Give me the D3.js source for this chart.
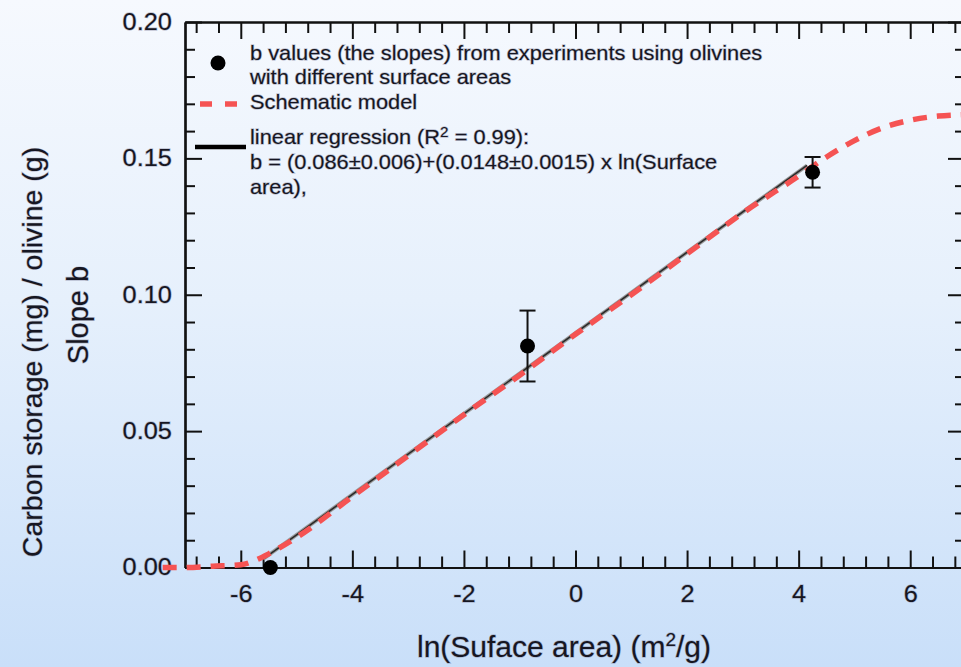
<!DOCTYPE html>
<html>
<head>
<meta charset="utf-8">
<script src="https://cdn.jsdelivr.net/npm/d3@7"></script>
<style>
  html, body { margin: 0; padding: 0; overflow: hidden; }
  svg text { font-family: "Liberation Sans", Arial, sans-serif; fill: #161622; }
  .halo { paint-order: stroke; stroke: rgba(110,110,140,0.4); stroke-width: 1.3px; }
  .axis path, .axis line { stroke: #111; }
</style>
</head>
<body>
<div id="chart"></div>
<script>
// measured b values with error bars
var pointX = [-5.47, -0.86, 4.25];
var pointY = [0.0, 0.0812, 0.1449];
var pointErr = [0.0, 0.013, 0.0056];

// linear regression: drawn between two x ends
var regX = [-5.6, 4.15];
var regY = [0.0031, 0.1474];

// schematic model
var modelX = [-7.4, -7, -6.5, -6, -5.7, -5.5, -5, -4, -3, -2, -1, 0, 1, 2, 3, 4, 4.5, 5, 5.5, 6, 6.5, 7];
var modelY = [0, 0, 0.0005, 0.001, 0.003, 0.005, 0.011, 0.026, 0.041, 0.056, 0.0705, 0.0855, 0.1, 0.115, 0.13, 0.1435, 0.1505, 0.1565, 0.1612, 0.164, 0.1655, 0.166];

var xMajorTicks = [-6, -4, -2, 0, 2, 4, 6];
var yMajorTicks = [0, 0.05, 0.10, 0.15, 0.20];

var legendLabels = [
  ["b values (the slopes) from experiments using olivines", "with different surface areas"],
  ["Schematic model"],
  ["linear regression (R", "b = (0.086\u00b10.006)+(0.0148\u00b10.0015) x ln(Surface", "area),"]
];

var svgWidth = 961;
var svgHeight = 667;

var svg = d3.select("#chart")
  .append("svg")
  .attr("width", svgWidth)
  .attr("height", svgHeight);

var defs = svg.append("defs");
var grad = defs.append("linearGradient")
  .attr("id", "bg")
  .attr("x1", 0).attr("y1", 0).attr("x2", 0).attr("y2", 1);
grad.append("stop").attr("offset", "0%").attr("stop-color", "#f6f9fe");
grad.append("stop").attr("offset", "45%").attr("stop-color", "#e6f0fc");
grad.append("stop").attr("offset", "100%").attr("stop-color", "#c9dff9");

svg.append("rect")
  .attr("width", svgWidth)
  .attr("height", svgHeight)
  .attr("fill", "url(#bg)");

var x = d3.scaleLinear().domain([-7, 7]).range([185, 966]);
var y = d3.scaleLinear().domain([0, 0.2]).range([567.5, 22]);

var xMinor = d3.range(-6.8, 7, 0.4).filter(v => xMajorTicks.every(m => Math.abs(m - v) > 0.01));
var yMinor = d3.range(0.01, 0.2, 0.01).filter(v => yMajorTicks.every(m => Math.abs(m - v) > 0.001));

function styleAxis(g) {
  g.selectAll("path").attr("stroke-width", 2.2);
  g.selectAll("line").attr("stroke-width", 2);
  g.selectAll("text")
    .attr("fill", "#161622")
    .attr("font-size", 23)
    .attr("transform", "scale(1.1,1)")
    .attr("font-family", "Liberation Sans, Arial, sans-serif")
    .classed("halo", true);
}

// bottom axis
var bottomG = svg.append("g").attr("class", "axis").attr("transform", `translate(0, ${y(0)})`);
bottomG.call(d3.axisBottom(x).tickValues(xMinor).tickSize(-11).tickSizeOuter(0).tickFormat(""));
bottomG.append("g").call(d3.axisBottom(x).tickValues(xMajorTicks).tickSize(-17).tickSizeOuter(0)
  .tickPadding(18).tickFormat(d => d < 0 ? "-" + Math.abs(d) : d));
bottomG.call(styleAxis);

// top axis
var topG = svg.append("g").attr("class", "axis").attr("transform", `translate(0, ${y(0.2)})`);
topG.call(d3.axisTop(x).tickValues(xMinor).tickSize(-11).tickSizeOuter(0).tickFormat(""));
topG.append("g").call(d3.axisTop(x).tickValues(xMajorTicks).tickSize(-17).tickSizeOuter(0).tickFormat(""));
topG.call(styleAxis);

// left axis
var leftG = svg.append("g").attr("class", "axis").attr("transform", `translate(${x(-7)}, 0)`);
leftG.call(d3.axisLeft(y).tickValues(yMinor).tickSize(-10).tickSizeOuter(0).tickFormat(""));
leftG.append("g").call(d3.axisLeft(y).tickValues(yMajorTicks).tickSize(-17).tickSizeOuter(0)
  .tickPadding(12).tickFormat(d3.format(".2f")));
leftG.call(styleAxis);

// right axis
var rightG = svg.append("g").attr("class", "axis").attr("transform", `translate(${x(7)}, 0)`);
rightG.call(d3.axisRight(y).tickValues(yMinor).tickSize(-11).tickSizeOuter(0).tickFormat(""));
rightG.append("g").call(d3.axisRight(y).tickValues(yMajorTicks).tickSize(-18).tickSizeOuter(0).tickFormat(""));
rightG.call(styleAxis);

// regression line
var line = d3.line().x(d => x(d[0])).y(d => y(d[1]));
svg.append("path")
  .datum(d3.zip(regX, regY))
  .attr("fill", "none")
  .attr("stroke", "#9a9a9a")
  .attr("stroke-width", 3.8)
  .attr("d", line);
svg.append("path")
  .datum(d3.zip(regX, regY))
  .attr("fill", "none")
  .attr("stroke", "#2a2a2a")
  .attr("stroke-width", 1.6)
  .attr("d", line);

// schematic model
var modelLine = d3.line().x(d => x(d[0])).y(d => y(d[1])).curve(d3.curveMonotoneX);
svg.append("path")
  .datum(d3.zip(modelX, modelY))
  .attr("fill", "none")
  .attr("stroke", "#f55353")
  .attr("stroke-width", 5.5)
  .attr("stroke-dasharray", "14,10")
  .attr("d", modelLine);

// error bars and points
var pts = d3.zip(pointX, pointY, pointErr);
var eb = svg.append("g");
pts.filter(d => d[2] > 0).forEach(function(d) {
  var g = eb.append("g").attr("stroke", "#111").attr("stroke-width", 2);
  g.append("line").attr("x1", x(d[0])).attr("x2", x(d[0])).attr("y1", y(d[1] - d[2])).attr("y2", y(d[1] + d[2]));
  g.append("line").attr("x1", x(d[0]) - 8).attr("x2", x(d[0]) + 8).attr("y1", y(d[1] - d[2])).attr("y2", y(d[1] - d[2]));
  g.append("line").attr("x1", x(d[0]) - 8).attr("x2", x(d[0]) + 8).attr("y1", y(d[1] + d[2])).attr("y2", y(d[1] + d[2]));
});
svg.append("g").selectAll("circle")
  .data(pts)
  .enter()
  .append("circle")
  .attr("cx", d => x(d[0]))
  .attr("cy", d => y(d[1]))
  .attr("r", 7.5)
  .attr("fill", "#000");

// legend
var legend = svg.append("g");
var legendFont = 20;
var legendStretch = "scale(1.09,1)";
legend.append("circle").attr("cx", 218).attr("cy", 63).attr("r", 7.5).attr("fill", "#000");
legend.append("line").attr("x1", 200).attr("x2", 243).attr("y1", 104).attr("y2", 104)
  .attr("stroke", "#f55353").attr("stroke-width", 5.5).attr("stroke-dasharray", "12,13");
legend.append("line").attr("x1", 195).attr("x2", 246).attr("y1", 147).attr("y2", 147)
  .attr("stroke", "#000").attr("stroke-width", 4.5);

var legendLines = [
  [legendLabels[0][0], 60],
  [legendLabels[0][1], 84],
  [legendLabels[1][0], 109],
  [legendLabels[2][1], 169],
  [legendLabels[2][2], 194]
];
legendLines.forEach(function(l) {
  legend.append("text")
    .attr("class", "halo")
    .attr("transform", `translate(250, ${l[1]}) ${legendStretch}`)
    .attr("font-size", legendFont)
    .text(l[0]);
});
var regText = legend.append("text")
  .attr("class", "halo")
  .attr("transform", `translate(250, 144) ${legendStretch}`)
  .attr("font-size", legendFont);
regText.append("tspan").text(legendLabels[2][0]);
regText.append("tspan").attr("dy", -7).attr("font-size", 14).text("2");
regText.append("tspan").attr("dy", 7).text(" = 0.99):");

// axis titles
var xTitle = svg.append("text")
  .attr("class", "halo")
  .attr("x", 564)
  .attr("y", 657)
  .attr("text-anchor", "middle")
  .attr("font-size", 30);
xTitle.append("tspan").text("ln(Suface area) (m");
xTitle.append("tspan").attr("dy", -11).attr("font-size", 19).text("2");
xTitle.append("tspan").attr("dy", 11).text("/g)");

svg.append("text")
  .attr("class", "halo")
  .attr("transform", "translate(42, 352) rotate(-90)")
  .attr("text-anchor", "middle")
  .attr("font-size", 28.5)
  .text("Carbon storage (mg) / olivine (g)");

svg.append("text")
  .attr("class", "halo")
  .attr("transform", "translate(88, 315) rotate(-90)")
  .attr("text-anchor", "middle")
  .attr("font-size", 29)
  .text("Slope b");
</script>
</body>
</html>
